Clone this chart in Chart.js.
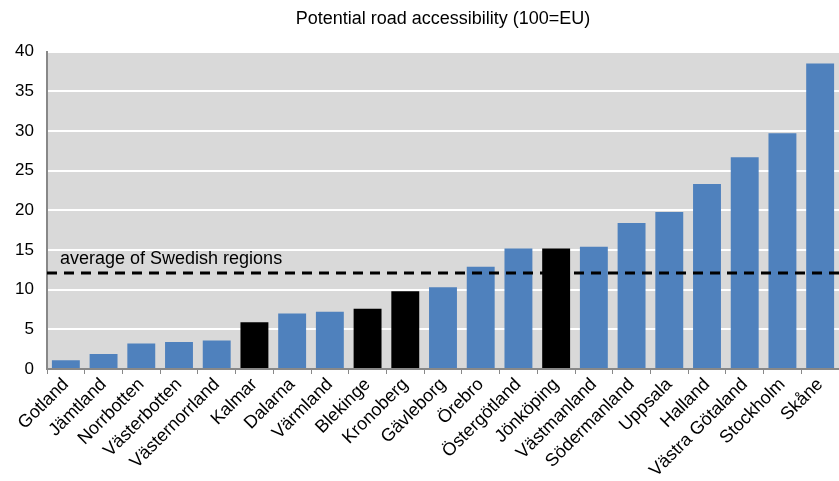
<!DOCTYPE html>
<html>
<head>
<meta charset="utf-8">
<script src="https://cdn.jsdelivr.net/npm/chart.js@4/dist/chart.umd.min.js"></script>
<style>
  body { margin: 0; background: #fff; }
  #wrap { width: 839px; height: 481px; position: relative; }
</style>
</head>
<body>
<div id="wrap"><canvas id="grafico"></canvas></div>
<script>
const regioes = ['Gotland', 'Jämtland', 'Norrbotten', 'Västerbotten', 'Västernorrland', 'Kalmar',
  'Dalarna', 'Värmland', 'Blekinge', 'Kronoberg', 'Gävleborg', 'Örebro', 'Östergötland',
  'Jönköping', 'Västmanland', 'Södermanland', 'Uppsala', 'Halland', 'Västra Götaland',
  'Stockholm', 'Skåne'];
const acessibilidade = [1.1, 1.9, 3.2, 3.4, 3.6, 5.9, 7.0, 7.2, 7.6, 9.8, 10.3, 12.9, 15.2,
  15.2, 15.4, 18.4, 19.8, 23.3, 26.7, 29.7, 38.5];
const destacadas = ['Kalmar', 'Blekinge', 'Kronoberg', 'Jönköping'];
const mediaSuecia = 12.1;
const yTicks = [0, 5, 10, 15, 20, 25, 30, 35, 40];

const fonte = '"Liberation Sans", Arial, sans-serif';
const cores = regioes.map(r => destacadas.includes(r) ? '#000000' : '#4F81BD');

// fundo cinza da area do grafico + linha tracejada da media
const fundoEMedia = {
  id: 'fundoEMedia',
  beforeDraw(chart) {
    const a = chart.chartArea, c = chart.ctx;
    c.save();
    c.fillStyle = '#D9D9D9';
    c.fillRect(a.left, a.top, a.right - a.left, a.bottom - a.top);
    c.restore();
  },
  afterDatasetsDraw(chart) {
    const a = chart.chartArea, c = chart.ctx;
    const y = chart.scales.y.getPixelForValue(mediaSuecia);
    c.save();
    c.strokeStyle = '#000';
    c.lineWidth = 3;
    c.setLineDash([10, 7]);
    c.beginPath();
    c.moveTo(a.left, y);
    c.lineTo(a.right, y);
    c.stroke();
    c.setLineDash([]);
    c.fillStyle = '#000';
    c.font = '18px ' + fonte;
    c.textBaseline = 'alphabetic';
    c.fillText('average of Swedish regions', a.left + 13, y - 9);
    c.restore();
  }
};

new Chart(document.getElementById('grafico'), {
  type: 'bar',
  data: {
    labels: regioes,
    datasets: [{
      data: acessibilidade,
      backgroundColor: cores,
      borderWidth: 0,
      barPercentage: 0.74,
      categoryPercentage: 1
    }]
  },
  options: {
    responsive: true,
    maintainAspectRatio: false,
    animation: false,
    layout: { padding: 0 },
    plugins: {
      legend: { display: false },
      tooltip: { enabled: false },
      title: {
        display: true,
        fullSize: false,
        text: 'Potential road accessibility (100=EU)',
        color: '#000',
        font: { family: fonte, size: 18, weight: 'normal' },
        padding: { top: 8, bottom: 22 }
      }
    },
    scales: {
      x: {
        grid: { offset: true, drawOnChartArea: false, color: '#888', tickLength: 5 },
        border: { color: '#888', width: 2 },
        ticks: {
          color: '#000',
          maxRotation: 45,
          minRotation: 45,
          autoSkip: false,
          padding: 0,
          font: { family: fonte, size: 18 }
        },
        afterFit: s => { s.height = 112; }
      },
      y: {
        min: 0,
        max: 40,
        afterBuildTicks: s => { s.ticks = yTicks.map(v => ({ value: v })); },
        grid: { color: '#fff', lineWidth: 2, drawTicks: false },
        border: { color: '#888', width: 2 },
        ticks: {
          color: '#000',
          padding: 13,
          font: { family: fonte, size: 17 }
        },
        afterFit: s => { s.width = 47; }
      }
    }
  },
  plugins: [fundoEMedia]
});
</script>
</body>
</html>
